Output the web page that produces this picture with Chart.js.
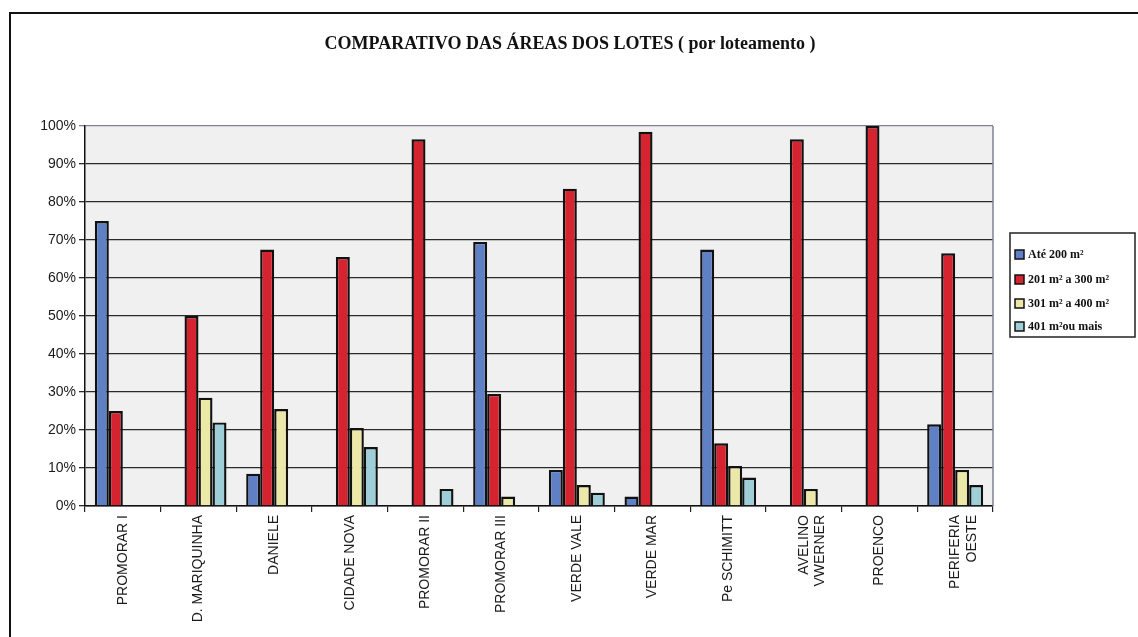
<!DOCTYPE html>
<html>
<head>
<meta charset="utf-8">
<script src="https://cdn.jsdelivr.net/npm/chart.js@4/dist/chart.umd.min.js"></script>
<style>
  html, body { margin: 0; padding: 0; background: #ffffff; }
  #wrap { width: 1138px; height: 637px; position: relative; }
</style>
</head>
<body>
<div id="wrap"><canvas id="c" width="1138" height="637"></canvas></div>
<script>
const titleText = 'COMPARATIVO DAS ÁREAS DOS LOTES ( por loteamento )';
const categories = [
  'PROMORAR I', 'D. MARIQUINHA', 'DANIELE', 'CIDADE NOVA', 'PROMORAR II', 'PROMORAR III',
  'VERDE VALE', 'VERDE MAR', 'Pe SCHIMITT', ['AVELINO', 'VWERNER'], 'PROENCO', ['PERIFERIA', 'OESTE']
];
const seriesNames = ['Até 200 m²', '201 m² a 300 m²', '301 m² a 400 m²', '401 m²ou mais'];
const ate200   = [75, 0, 8.5, 0, 0, 69.5, 9.5, 2.5, 67.5, 0, 0, 21.5];
const de201a300 = [25, 50, 67.5, 65.5, 96.5, 29.5, 83.5, 98.5, 16.5, 96.5, 100, 66.5];
const de301a400 = [0, 28.5, 25.5, 20.5, 0, 2.5, 5.5, 0, 10.5, 4.5, 0, 9.5];
const acima401  = [0, 22, 0, 15.5, 4.5, 0, 3.5, 0, 7.5, 0, 0, 5.5];
const yTicks = [0, 10, 20, 30, 40, 50, 60, 70, 80, 90, 100];

const colors = ['#5f80c4', '#d52430', '#ece8a8', '#9ecfd8'];

const framePlugin = {
  id: 'frame',
  beforeDraw(chart) {
    const ctx = chart.ctx, a = chart.chartArea;
    ctx.save();
    ctx.fillStyle = '#ffffff';
    ctx.fillRect(0, 0, chart.width, chart.height);
    ctx.fillStyle = '#f0f0f0';
    ctx.fillRect(a.left, a.top, a.right - a.left, a.bottom - a.top);
    ctx.restore();
  },
  afterDraw(chart) {
    const ctx = chart.ctx, a = chart.chartArea;
    ctx.save();
    ctx.strokeStyle = '#7f8096';
    ctx.lineWidth = 1.5;
    ctx.beginPath();
    ctx.moveTo(a.right, a.top);
    ctx.lineTo(a.right, a.bottom);
    ctx.stroke();
    ctx.strokeStyle = '#111';
    ctx.lineWidth = 2;
    ctx.strokeRect(10, 13, 1140, 640);
    ctx.fillStyle = '#111';
    ctx.font = 'bold 18px "Liberation Serif", "Times New Roman", serif';
    ctx.textAlign = 'center';
    ctx.textBaseline = 'middle';
    ctx.fillText(titleText, 570, 44);
    ctx.lineWidth = 1.5;
    ctx.strokeStyle = '#222';
    ctx.strokeRect(1010, 233, 125, 104);
    const ys = [254, 279, 303, 326];
    ctx.font = 'bold 12px "Liberation Serif", "Times New Roman", serif';
    ctx.textAlign = 'left';
    chart.data.datasets.forEach((ds, i) => {
      ctx.fillStyle = ds.backgroundColor;
      ctx.fillRect(1015, ys[i] - 4, 9, 9);
      ctx.lineWidth = 1.5;
      ctx.strokeStyle = '#111';
      ctx.strokeRect(1015, ys[i] - 4, 9, 9);
      ctx.fillStyle = '#111';
      ctx.fillText(ds.label, 1028, ys[i] + 1);
    });
    ctx.restore();
  }
};

const seriesData = [ate200, de201a300, de301a400, acima401];

new Chart(document.getElementById('c'), {
  type: 'bar',
  data: {
    labels: categories,
    datasets: seriesNames.map((n, i) => ({
      label: n,
      data: seriesData[i],
      backgroundColor: colors[i],
      borderColor: '#111',
      borderWidth: 2.4,
      borderSkipped: 'bottom',
      categoryPercentage: 0.74,
      barPercentage: 1.0
    }))
  },
  options: {
    responsive: false,
    animation: false,
    devicePixelRatio: 1,
    layout: { padding: { left: 0, right: 145, top: 126, bottom: 0 } },
    plugins: {
      legend: { display: false },
      title: { display: false },
      tooltip: { enabled: false }
    },
    scales: {
      x: {
        afterFit(scale) { scale.height = 131; },
        grid: {
          display: true,
          drawOnChartArea: false,
          drawTicks: true,
          tickLength: 6,
          color: '#222',
          lineWidth: 1.2,
          offset: true
        },
        border: { display: true, color: '#111', width: 1.5 },
        ticks: {
          autoSkip: false,
          maxRotation: 90,
          minRotation: 90,
          padding: 3,
          color: '#1a1a1a',
          font: { family: '"Liberation Sans", Arial, sans-serif', size: 14 }
        }
      },
      y: {
        min: 0,
        max: 100,
        afterFit(scale) { scale.width = 85; },
        afterBuildTicks(scale) { scale.ticks = yTicks.map(v => ({ value: v })); },
        grid: {
          color: (c) => (c.tick && c.tick.value === 100) ? '#7f8096' : '#2a2a2a',
          lineWidth: 1.3,
          tickLength: 6
        },
        border: { display: true, color: '#111', width: 1.5 },
        ticks: {
          padding: 3,
          color: '#1a1a1a',
          font: { family: '"Liberation Sans", Arial, sans-serif', size: 14 },
          callback: (v) => v + '%'
        }
      }
    }
  },
  plugins: [framePlugin]
});
</script>
</body>
</html>
